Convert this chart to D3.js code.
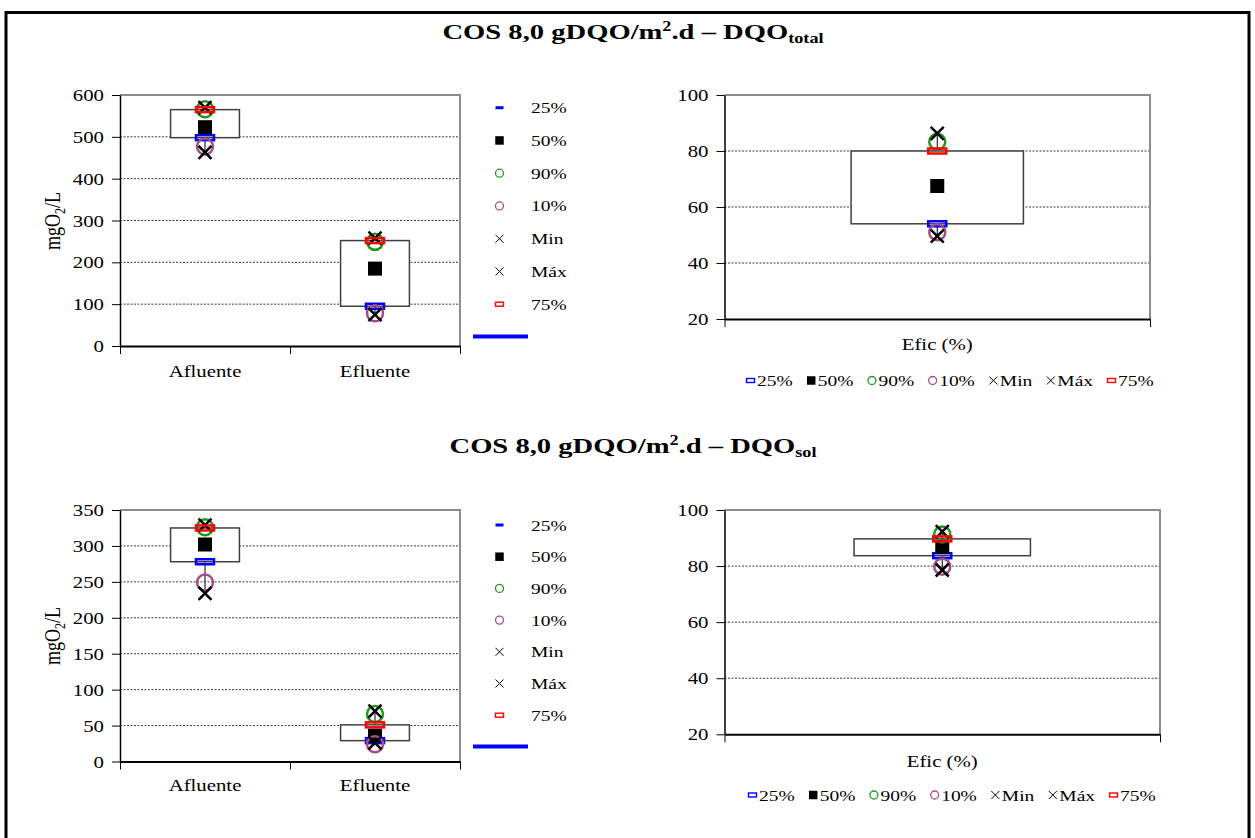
<!DOCTYPE html>
<html>
<head>
<meta charset="utf-8">
<script src="https://cdn.jsdelivr.net/npm/d3@7"></script>
<style>
  body { margin: 0; background: #fff; }
  svg text { font-family: "Times New Roman", "Liberation Serif", serif !important; fill: #000; }
</style>
</head>
<body>
<script>
/* Series (orden de la leyenda) */
const series = ['25%', '50%', '90%', '10%', 'Min', 'Máx', '75%']

/* Categorias */
const categorias = ['Afluente', 'Efluente']
const categoriaEfic = ['Efic (%)']

/* DQO total: valores por categoria, en el orden de las series */
const totalAfluente = [498, 523, 566, 477, 463, 570, 565]
const totalEfluente = [95, 185, 249, 78, 75, 258, 252]
const totalEfic = [54, 67.5, 83.3, 51, 49.6, 86.3, 80]

/* DQO soluble */
const solAfluente = [278, 302, 326, 249, 234, 329, 325]
const solEfluente = [29, 36, 66, 24, 26, 70, 51]
const solEfic = [83.7, 86.9, 91.3, 79.8, 78.6, 92.3, 89.7]

/* Ticks de los ejes */
const ticksTotal = [0, 100, 200, 300, 400, 500, 600]
const ticksSol = [0, 50, 100, 150, 200, 250, 300, 350]
const ticksEfic = [20, 40, 60, 80, 100]

const W = 1255, H = 838
const SX = 1.3 /*estiramiento horizontal del texto*/

const svg = d3.select('body').append('svg')
  .attr('width', W)
  .attr('height', H)

/*Marco*/
svg.append('rect')
  .attr('x', 6).attr('y', 12.5)
  .attr('width', 1243).attr('height', 900)
  .attr('fill', 'none').attr('stroke', '#000').attr('stroke-width', 3)

const texto = (g, x, y, str, size, anchor) => g.append('text')
  .attr('transform', `translate(${x},${y}) scale(${SX},1)`)
  .attr('text-anchor', anchor || 'start')
  .style('font-size', size + 'px')
  .text(str)

/*Titulos*/
const titulo = (y, sub) => {
  const t = svg.append('text')
    .attr('transform', `translate(633,${y}) scale(${SX},1)`)
    .attr('text-anchor', 'middle')
    .style('font-size', '22px')
    .style('font-weight', 'bold')
  t.append('tspan').text('COS 8,0 gDQO/m')
  t.append('tspan').attr('dy', -8).style('font-size', '14px').text('2')
  t.append('tspan').attr('dy', 8).text('.d – DQO')
  t.append('tspan').attr('dy', 4).style('font-size', '14px').text(sub)
}
titulo(39, 'total')
titulo(453, 'sol')

/*Colores de las series*/
const color = { '25%': '#0000ff', '50%': '#000', '90%': '#1f9a1f', '10%': '#a24f88', 'Min': '#000', 'Máx': '#000', '75%': '#ff0000' }

/*Marcadores: grande (grafico), lado (leyenda lateral), inf (leyenda inferior)*/
const marcador = (g, s, x, y, tipo) => {
  const c = color[s]
  const big = tipo === 'grande'
  if (s === '25%' || s === '75%') {
    if (tipo === 'lado' && s === '25%') {
      g.append('rect').attr('x', x - 4).attr('y', y - 1.5).attr('width', 8).attr('height', 3).attr('fill', c)
    } else {
      const w = big ? 18 : 8, h = big ? 5 : 4
      g.append('rect').attr('x', x - w / 2).attr('y', y - h / 2).attr('width', w).attr('height', h)
        .attr('fill', big ? 'none' : '#fff').attr('stroke', c).attr('stroke-width', big ? 2.5 : 1.4)
    }
  } else if (s === '50%') {
    const w = big ? 14 : 8.5
    g.append('rect').attr('x', x - w / 2).attr('y', y - w / 2).attr('width', w).attr('height', w).attr('fill', c)
  } else if (s === '90%' || s === '10%') {
    g.append('circle').attr('cx', x).attr('cy', y).attr('r', big ? 8 : 4)
      .attr('fill', 'none').attr('stroke', c).attr('stroke-width', big ? 2.5 : 1.3)
  } else {
    const r = big ? 6.5 : 4
    g.append('path').attr('d', `M${x - r},${y - r}L${x + r},${y + r}M${x - r},${y + r}L${x + r},${y - r}`)
      .attr('stroke', c).attr('stroke-width', big ? 2.5 : 1).attr('fill', 'none')
  }
}

/*Grafico de cajas*/
const panel = (o) => {
  const g = svg.append('g')
  const y = d3.scaleLinear().domain(o.domain).range([o.bottom, o.top])
  const xc = d3.scalePoint().domain(o.cats).range([o.left, o.right]).padding(0.5)
  const bw = xc.step() * 0.405

  /*Grilla*/
  g.append('g').selectAll('line')
    .data(o.ticks.slice(1, -1))
    .join('line')
    .attr('x1', o.left).attr('x2', o.right)
    .attr('y1', d => y(d)).attr('y2', d => y(d))
    .attr('stroke', '#3a3a3a').attr('stroke-dasharray', '2,1.5')

  /*Borde superior y derecho*/
  g.append('path')
    .attr('d', `M${o.left},${o.top}H${o.right}V${o.bottom}`)
    .attr('fill', 'none').attr('stroke', '#8c8c8c').attr('stroke-width', 2)

  /*Eje Y*/
  const ya = g.append('g')
    .attr('transform', `translate(${o.left},0)`)
    .call(d3.axisLeft(y).tickValues(o.ticks).tickSize(8).tickSizeOuter(0))
  ya.attr('font-family', null).attr('font-size', null)
  ya.select('.domain').attr('stroke', '#000').attr('stroke-width', 1.5)
  ya.selectAll('.tick line').attr('stroke', '#000')
  ya.selectAll('.tick text')
    .attr('x', null).attr('dy', null)
    .attr('transform', `translate(-16,5.5) scale(${SX},1)`)
    .style('font-size', '16px')

  /*Eje X (ticks entre categorias)*/
  const xs = d3.scaleLinear().domain([0, o.cats.length]).range([o.left, o.right])
  const xa = g.append('g')
    .attr('transform', `translate(0,${o.bottom})`)
    .call(d3.axisBottom(xs).tickValues(d3.range(o.cats.length + 1)).tickSize(8).tickSizeOuter(0).tickFormat(() => ''))
  xa.select('.domain').attr('stroke', '#000').attr('stroke-width', 2)
  xa.selectAll('.tick line').attr('stroke', '#000')

  o.cats.forEach(c => texto(g, xc(c), o.catY, c, 16, 'middle'))

  /*Cajas*/
  o.values.forEach((v, i) => {
    const cx = xc(o.cats[i])
    const [p25, , , , mn, mx, p75] = v
    g.append('line')
      .attr('x1', cx).attr('x2', cx).attr('y1', y(mn)).attr('y2', y(mx))
      .attr('stroke', '#000').attr('stroke-width', 1)
    g.append('rect')
      .attr('x', cx - bw / 2).attr('y', y(p75))
      .attr('width', bw).attr('height', y(p25) - y(p75))
      .attr('fill', '#fff').attr('stroke', '#404040').attr('stroke-width', 1.5)
    series.forEach((s, k) => marcador(g, s, cx, y(v[k]), 'grande'))
  })

  /*Titulo eje Y*/
  if (o.yTitle) {
    const t = g.append('text')
      .attr('transform', `translate(52,${o.yTitle}) scale(${SX},1) rotate(-90)`)
      .attr('text-anchor', 'middle').attr('dy', '0.35em')
      .style('font-size', '18px')
    t.append('tspan').text('mgO')
    t.append('tspan').attr('dy', 4).style('font-size', '12px').text('2')
    t.append('tspan').attr('dy', -4).text('/L')
  }

  /*Leyenda lateral*/
  if (o.side) {
    series.forEach((s, i) => {
      const ly = o.side.y0 + i * o.side.step
      marcador(g, s, 499.5, ly, 'lado')
      texto(g, 531, ly + 5.5, s, 15)
    })
    g.append('line')
      .attr('x1', 473).attr('x2', 528)
      .attr('y1', o.side.y0 + 7 * o.side.step - 0.5).attr('y2', o.side.y0 + 7 * o.side.step - 0.5)
      .attr('stroke', '#0000ff').attr('stroke-width', 4)
  }

  /*Leyenda inferior*/
  if (o.under) {
    let x = o.under.x0
    series.forEach(s => {
      marcador(g, s, x + 4.5, o.under.y, 'inf')
      const t = texto(g, x + 11, o.under.y + 5.5, s, 15)
      x += 11 + t.node().getComputedTextLength() * SX + 14
    })
  }
}

panel({ left: 120, right: 460, top: 95, bottom: 346, domain: [0, 600], ticks: ticksTotal,
  cats: categorias, values: [totalAfluente, totalEfluente], catY: 377, yTitle: 221,
  side: { y0: 107.7, step: 32.75 } })

panel({ left: 724.5, right: 1150, top: 95, bottom: 319, domain: [20, 100], ticks: ticksEfic,
  cats: categoriaEfic, values: [totalEfic], catY: 350,
  under: { x0: 746, y: 380.5 } })

panel({ left: 120, right: 460, top: 510, bottom: 761.5, domain: [0, 350], ticks: ticksSol,
  cats: categorias, values: [solAfluente, solEfluente], catY: 791, yTitle: 636,
  side: { y0: 525, step: 31.7 } })

panel({ left: 724.5, right: 1160, top: 510, bottom: 734.3, domain: [20, 100], ticks: ticksEfic,
  cats: categoriaEfic, values: [solEfic], catY: 766.5,
  under: { x0: 748, y: 795 } })
</script>
</body>
</html>
